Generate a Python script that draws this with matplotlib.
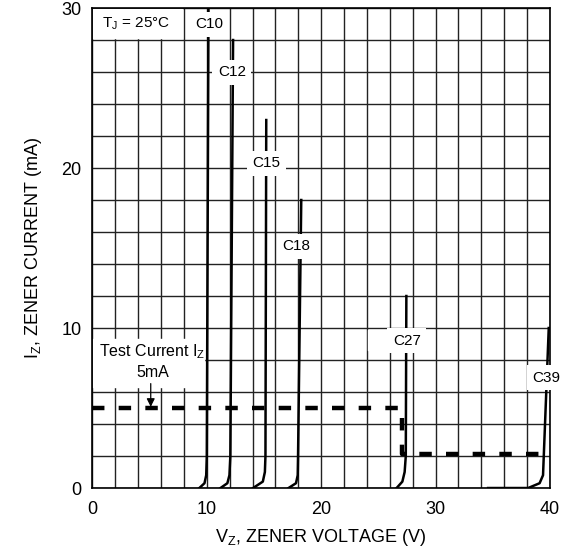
import numpy as np
import matplotlib
matplotlib.use('Agg')
import matplotlib.pyplot as plt

plt.rcParams['font.family'] = ['Liberation Sans', 'DejaVu Sans']
plt.rcParams['mathtext.fontset'] = 'custom'
plt.rcParams['mathtext.rm'] = 'Liberation Sans'
plt.rcParams['mathtext.it'] = 'Liberation Sans:italic'

# zener curves: (voltage V, current mA)
c10_v = [9.35, 9.8, 9.95, 10.0, 10.15]
c10_i = [0, 0.3, 0.8, 2, 30]
c12_v = [11.2, 11.8, 11.98, 12.06, 12.3]
c12_i = [0, 0.3, 0.8, 2, 28]
c15_v = [14.05, 14.9, 15.08, 15.13, 15.2]
c15_i = [0, 0.4, 1.0, 2, 23]
c18_v = [17.15, 17.8, 17.95, 17.98, 18.26]
c18_i = [0, 0.3, 0.8, 2, 18]
c27_v = [26.6, 27.1, 27.3, 27.4, 27.45]
c27_i = [0, 0.4, 1.0, 2, 12]
c39_v = [34.6, 38.1, 39.1, 39.4, 39.9]
c39_i = [0, 0, 0.3, 0.8, 10]

# test current path
test_v = [0, 27.1, 27.1, 39.7]
test_i = [5, 5, 2.1, 2.1]

curves = [
    ('C10', c10_v, c10_i, (10.2, 29.0)),
    ('C12', c12_v, c12_i, (12.2, 26.0)),
    ('C15', c15_v, c15_i, (15.2, 20.3)),
    ('C18', c18_v, c18_i, (17.85, 15.1)),
    ('C27', c27_v, c27_i, (27.5, 9.2)),
    ('C39', c39_v, c39_i, (39.7, 6.9)),
]

fig = plt.figure(figsize=(5.74, 5.5), dpi=100)
ax = fig.add_axes([0.161, 0.1127, 0.797, 0.8727])

ax.set_xlim(0, 40)
ax.set_ylim(0, 30)
ax.set_xticks(np.arange(0, 41, 2), minor=True)
ax.set_yticks(np.arange(0, 31, 2), minor=True)
ax.set_xticks([0, 10, 20, 30, 40])
ax.set_yticks([0, 10, 20, 30])
ax.grid(True, which='both', color='#222222', linewidth=1.0)
ax.set_axisbelow(True)
ax.tick_params(which='both', length=0, labelsize=13)
ax.tick_params(axis='x', pad=9)
ax.tick_params(axis='y', pad=8)
for sp in ax.spines.values():
    sp.set_linewidth(1.2)

for name, v, i, pos in curves:
    ax.plot(v, i, color='black', linewidth=1.8, solid_joinstyle='round', zorder=3)
    ax.text(pos[0], pos[1], name, fontsize=11, ha='center', va='center', zorder=5,
            bbox=dict(facecolor='white', edgecolor='none', pad=4))

ax.plot(test_v, test_i, color='black', linewidth=3.2, linestyle=(0, (2.8, 3.2)), zorder=4)

# white patches behind the annotations
ax.fill_between([0.05, 7.8], 28.1, 29.95, color='white', zorder=2.5)
ax.fill_between([0.05, 9.8], 6.3, 9.3, color='white', zorder=2.5)
ax.fill_between([24.1, 29.9], 8.6, 9.9, color='white', zorder=2.5)

ax.text(3.8, 29.0, 'T$_{\\mathregular{J}}$ = 25°C', fontsize=11, ha='center', va='center', zorder=5)
ax.text(5.2, 8.5, 'Test Current I$_{\\mathregular{Z}}$', fontsize=11.5, ha='center', va='center', zorder=5)
ax.text(5.3, 7.2, '5mA', fontsize=11.5, ha='center', va='center', zorder=5)
ax.annotate('', xy=(5.1, 4.9), xytext=(5.1, 6.7),
            arrowprops=dict(arrowstyle='-|>', color='black', lw=0.9, mutation_scale=12), zorder=5)

ax.set_xlabel('V$_{\\mathregular{Z}}$, ZENER VOLTAGE (V)', fontsize=13, labelpad=7)
ax.set_ylabel('I$_{\\mathregular{Z}}$, ZENER CURRENT (mA)', fontsize=13)
ax.yaxis.set_label_coords(-0.105, 0.5)

fig.savefig('out.png', dpi=100)
